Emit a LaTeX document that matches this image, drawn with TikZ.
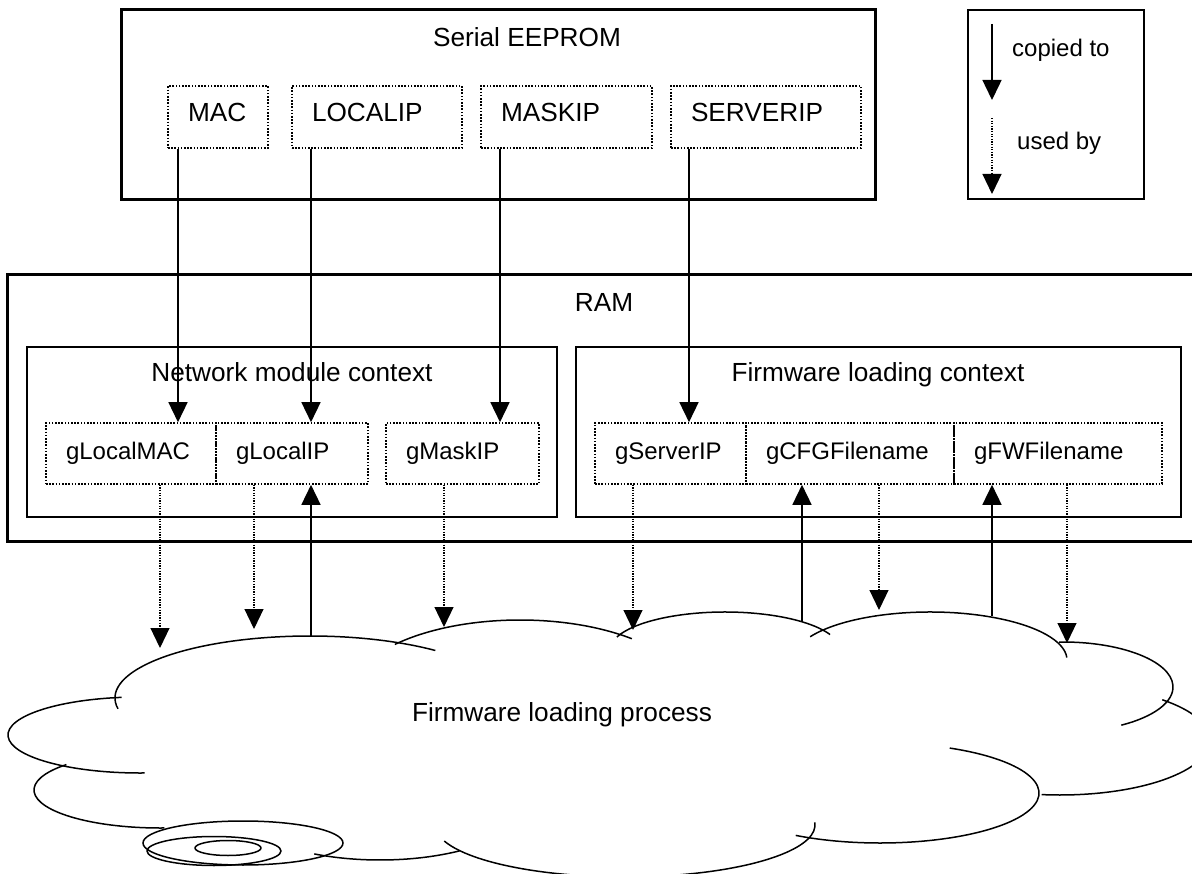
\documentclass[tikz,border=0pt]{standalone}
\usepackage{fontspec}
\setmainfont{Liberation Sans}
\usetikzlibrary{arrows.meta,positioning,calc}
\tikzset{
  % memory blocks: thick solid frame
  membox/.style={draw, rectangle, line width=3pt, inner sep=0pt},
  legbox/.style={draw, rectangle, line width=2pt, inner sep=0pt},
  % context inside RAM
  ctxbox/.style={draw, rectangle, line width=1.5pt, inner sep=0pt},
  % variable cell: dotted frame, text on the left
  varbox/.style={draw, rectangle, line width=1.6pt, dash pattern=on 1.6pt off 1.6pt,
                 inner xsep=20pt, inner ysep=0pt, align=left, text width=#1,
                 font=\fontsize{24}{28}\selectfont, text height=37pt, text depth=24pt},
  eebox/.style={varbox=#1, font=\fontsize{26.2}{30}\selectfont,
                text height=36pt, text depth=26pt},
  title/.style={anchor=base, inner sep=0pt},
  small/.style={font=\fontsize{24}{28}\selectfont},
  % Arrows
  copyarr/.style={-{Triangle[length=20pt,width=19pt]}, line width=1.5pt},
  usedarr/.style={-{Triangle[length=20pt,width=19pt]}, line width=1.2pt,
                  dash pattern=on 1.3pt off 1.3pt},
  cloudline/.style={line width=1.5pt}
}

\begin{document}
\begin{tikzpicture}[x=1pt, y=-1pt, every node/.style={font=\fontsize{26.2}{30}\selectfont}]
\useasboundingbox (0,0) rectangle (1192,874);
\clip (0,0) rectangle (1192,874);

% ============== Serial EEPROM ==============
\node[membox, minimum width=754pt, minimum height=190pt] (eeprom) at (498,105) {};
\node[title] (eetitle) at (527,47) {Serial EEPROM};
\node[eebox=60pt]  (mac)      at (218,117) {MAC};
\node[eebox=130pt] (localip)  at (377,117)   {LOCALIP};
\node[eebox=131pt] (maskip)   at (566.5,117) {MASKIP};
\node[eebox=150pt] (serverip) at (766,117)   {SERVERIP};

% ============== legend ==============
\node[legbox, minimum width=176pt, minimum height=189pt] (legend) at (1056,104.5) {};
\node[title, small, anchor=base west] (lgcopy) at (1012,57) {copied to};
\node[title, small, anchor=base west] (lgused) at (1017,150) {used by};
\coordinate (lgA) at (992,24);
\coordinate (lgB) at (992,100);
\coordinate (lgC) at (992,118);
\coordinate (lgD) at (992,194);
\draw[copyarr] (lgA) -- (lgB);
\draw[usedarr] (lgC) -- (lgD);

% ============== RAM ==============
\node[membox, minimum width=1189pt, minimum height=266pt] (ram) at (601.5,408) {};
\node[title] (ramtitle) at (604,312) {RAM};

\node[ctxbox, minimum width=530pt, minimum height=170pt] (netctx) at (292,432) {};
\node[title] (nettitle) at (292,382) {Network module context};
\node[ctxbox, minimum width=605pt, minimum height=170pt] (fwctx) at (878.5,432) {};
\node[title] (fwtitle) at (878,382) {Firmware loading context};

\node[varbox=130pt] (glmac)    at (131,453.5) {gLocalMAC};
\node[varbox=112pt] (glip)     at (292,453.5)   {gLocalIP};
\node[varbox=113pt] (gmask)    at (462.5,453.5) {gMaskIP};
\node[varbox=111pt] (gserver)  at (670.5,453.5) {gServerIP};
\node[varbox=168pt] (gcfg)     at (850,453.5)   {gCFGFilename};
\node[varbox=168pt] (gfw)      at (1058,453.5)  {gFWFilename};

% ============== copy EEPROM -> RAM ==============
\coordinate (tMac) at (178,0);
\coordinate (tLip) at (311,0);
\coordinate (tMask) at (500,0);
\coordinate (tServer) at (689,0);
\draw[copyarr] (mac.south -| tMac) -- (glmac.north -| tMac);
\draw[copyarr] (localip.south -| tLip) -- (glip.north -| tLip);
\draw[copyarr] (maskip.south -| tMask) -- (gmask.north -| tMask);
\draw[copyarr] (serverip.south -| tServer) -- (gserver.north -| tServer);

% ============== cloud ==============
\draw[cloudline] (140,735) ++(262:132 and 38) arc[start angle=262, end angle=88, x radius=132, y radius=38];
\draw[cloudline] (160,790) ++(222:126 and 38) arc[start angle=222, end angle=88, x radius=126, y radius=38];
\draw[cloudline] (310,698) ++(170:195 and 62) arc[start angle=170, end angle=310, x radius=195, y radius=62];
\draw[cloudline] (520,700) ++(224:174 and 80) arc[start angle=224, end angle=310, x radius=174, y radius=80];
\draw[cloudline] (725,650) ++(200:115 and 38) arc[start angle=200, end angle=336, x radius=115, y radius=38];
\draw[cloudline] (930,660) ++(209:137 and 48) arc[start angle=209, end angle=357, x radius=137, y radius=48];
\draw[cloudline] (1063,687) ++(268:110 and 45) arc[start angle=268, end angle=418, x radius=110, y radius=45];
\draw[cloudline] (1060,740) ++(313:150 and 55) arc[start angle=313, end angle=457, x radius=150, y radius=55];
\draw[cloudline] (880,793) ++(296:159 and 50) arc[start angle=296, end angle=482, x radius=159, y radius=50];
\draw[cloudline] (625,825) ++(162:190 and 52) arc[start angle=162, end angle=-3, x radius=190, y radius=52];
\draw[cloudline] (380,800) ++(116:150 and 60) arc[start angle=116, end angle=58, x radius=150, y radius=60];
% spiral
\draw[cloudline] (243,843) ellipse[x radius=100, y radius=22];
\draw[cloudline] (214,851) ellipse[x radius=67, y radius=14.5];
\draw[cloudline] (228,848) ellipse[x radius=33, y radius=7.5];
\node[title] (proc) at (562,721) {Firmware loading process};

% ============== used by (RAM -> process) ==============
\coordinate (pLmac) at (160,648);
\coordinate (pLip) at (254,629);
\coordinate (pMask) at (444,627);
\coordinate (pServer) at (633,630);
\coordinate (pCfg) at (879,610);
\coordinate (pFw) at (1067,643);
\draw[usedarr] (glmac.south -| pLmac) -- (pLmac);
\draw[usedarr] (glip.south -| pLip) -- (pLip);
\draw[usedarr] (gmask.south -| pMask) -- (pMask);
\draw[usedarr] (gserver.south -| pServer) -- (pServer);
\draw[usedarr] (gcfg.south -| pCfg) -- (pCfg);
\draw[usedarr] (gfw.south -| pFw) -- (pFw);

% ============== copied to (process -> RAM) ==============
\coordinate (qLip) at (311,636);
\coordinate (qCfg) at (802,621);
\coordinate (qFw) at (992,616);
\draw[copyarr] (qLip) -- (glip.south -| qLip);
\draw[copyarr] (qCfg) -- (gcfg.south -| qCfg);
\draw[copyarr] (qFw) -- (gfw.south -| qFw);

\end{tikzpicture}
\end{document}
